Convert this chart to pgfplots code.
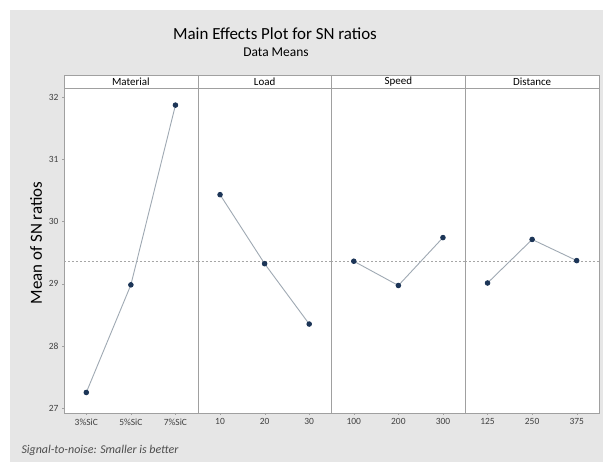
\documentclass[border=0pt]{standalone}
\usepackage{pgfplots}
\pgfplotsset{compat=1.18}
\usepackage{fontspec}
\setmainfont{Carlito}
\definecolor{bgray}{HTML}{E6E6E6}
\definecolor{linec}{HTML}{9FA9B3}
\definecolor{markc}{HTML}{1C3557}
\definecolor{framec}{HTML}{A0A0A0}

\pgfplotsset{panel/.style={
  scale only axis, width=133.75bp, height=325bp, anchor=south west,
  ymin=26.92, ymax=32.145, xmin=0.5, xmax=3.5,
  xtick={1,2,3}, axis line style={framec},
  axis background/.style={fill=white},
  tick style={framec}, major tick length=2bp, tick align=outside,
  tick label style={font=\fontsize{9.5}{10}\selectfont, text=black!75},
  ytick=\empty, xtick pos=bottom,
  clip=false, /pgf/number format/assume math mode=true,
}}
\newcommand{\header}[1]{%
  \draw[framec, fill=white] (rel axis cs:0,1) rectangle (rel axis cs:1,1.04);
  \node[font=\fontsize{11}{12}\selectfont] at (rel axis cs:0.5,1.02) {#1};
  \addplot[black!35, dash pattern=on 2pt off 2pt] coordinates {(0.5,29.36) (3.5,29.36)};
}
\pgfplotsset{effect/.style={linec, line width=0.9pt, mark=*, mark size=2.3pt,
  mark options={markc, fill=markc}}}

\begin{document}
\begin{tikzpicture}
\fill[bgray] (10bp,0) rectangle (603bp,452bp);
\path (0,0) rectangle (603bp,462bp);

\node[font=\fontsize{17}{19}\selectfont] at (275bp,428bp) {Main Effects Plot for SN ratios};
\node[font=\fontsize{13.5}{15}\selectfont] at (276bp,410bp) {Data Means};

\begin{axis}[panel, at={(64bp,49bp)}, ytick={27,28,29,30,31,32}, ytick pos=left,
  xticklabels={3\%SiC,5\%SiC,7\%SiC}]
\header{Material}
\addplot[effect] coordinates {(1,27.25) (2,28.98) (3,31.87)};
\end{axis}

\begin{axis}[panel, at={(197.75bp,49bp)}, xticklabels={10,20,30}]
\header{Load}
\addplot[effect] coordinates {(1,30.43) (2,29.32) (3,28.35)};
\end{axis}

\begin{axis}[panel, at={(331.5bp,49bp)}, xticklabels={100,200,300}]
\header{Speed}
\addplot[effect] coordinates {(1,29.36) (2,28.97) (3,29.74)};
\end{axis}

\begin{axis}[panel, at={(465.25bp,49bp)}, xticklabels={125,250,375}]
\header{Distance}
\addplot[effect] coordinates {(1,29.01) (2,29.71) (3,29.37)};
\end{axis}

\node[rotate=90, font=\fontsize{17}{19}\selectfont] at (36bp,219bp) {Mean of SN ratios};
\node[anchor=west, font=\itshape\fontsize{12}{13}\selectfont, text=black!70] at (18bp,12bp) {Signal-to-noise: Smaller is better};
\end{tikzpicture}
\end{document}
